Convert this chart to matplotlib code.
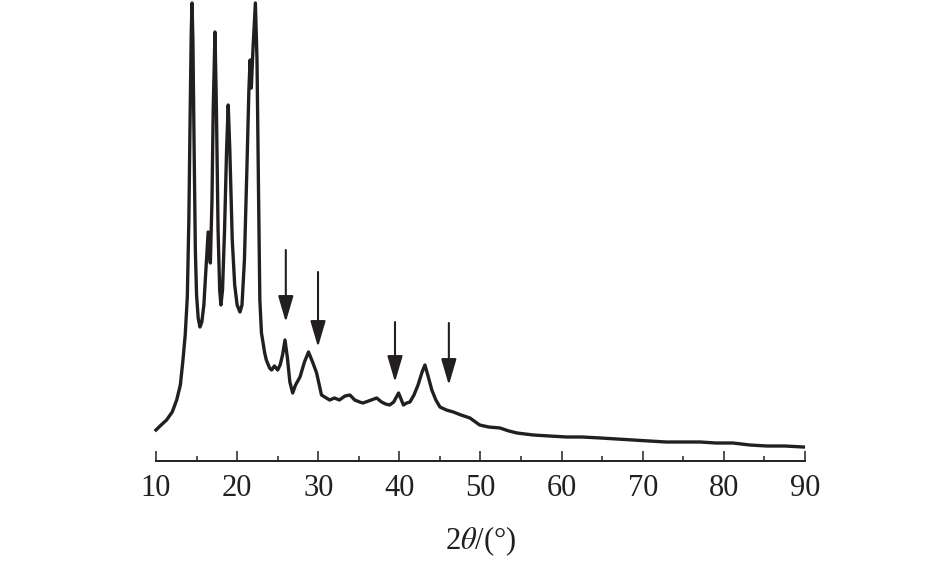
import matplotlib
matplotlib.use("Agg")
import matplotlib.pyplot as plt
from matplotlib.ticker import MultipleLocator

# XRD pattern (2theta in degrees, intensity in arbitrary units)
two_theta = [10.0, 10.5, 11.3, 12.0, 12.55, 13.0, 13.3, 13.6, 13.86, 14.05,
             14.2, 14.35, 14.44, 14.55, 14.7, 14.85, 15.0, 15.2, 15.42, 15.65,
             15.9, 16.15, 16.43, 16.7, 16.9, 17.05, 17.27, 17.45, 17.65, 17.85,
             18.0, 18.2, 18.45, 18.7, 18.9, 19.1, 19.4, 19.7, 20.0, 20.35,
             20.6, 20.9, 21.2, 21.45, 21.6, 21.75, 21.95, 22.25, 22.45, 22.65,
             22.8, 23.0, 23.4, 23.6, 24.0, 24.25, 24.6, 25.0, 25.3, 25.6,
             25.9, 26.2, 26.5, 26.85, 27.2, 27.75, 28.3, 28.8, 29.3, 29.8,
             30.4, 31.0, 31.4, 32.0, 32.6, 33.3, 33.9, 34.5, 35.1, 35.5,
             36.2, 37.2, 37.8, 38.3, 38.8, 39.3, 39.9, 40.5, 40.9, 41.3,
             41.8, 42.3, 42.8, 43.15, 43.5, 44.0, 44.5, 45.0, 45.8, 46.65,
             47.6, 48.7, 49.9, 51.0, 52.4, 53.5, 54.5, 56.5, 58.5, 60.6,
             62.5, 64.8, 66.8, 68.8, 70.8, 72.9, 75.0, 77.1, 79.0, 81.1,
             83.2, 85.3, 87.5, 89.8]
intensity = [31, 35, 41, 49, 61, 76, 99, 126, 164, 241,
             341, 431, 458, 421, 311, 211, 166, 143, 134, 139,
             156, 191, 229, 198, 261, 351, 429, 351, 231, 171,
             156, 171, 231, 311, 356, 311, 221, 176, 156, 149,
             156, 201, 291, 371, 401, 373, 411, 458, 401, 261,
             161, 128, 108, 101, 93, 91, 95, 91, 96, 106,
             121, 103, 79, 68, 76, 84, 99, 109, 99, 88,
             66, 63, 61, 63, 61, 65, 66, 61, 59, 58,
             60, 63, 59, 57, 56, 59, 68, 56, 58, 59,
             66, 76, 89, 96, 86, 71, 61, 54, 51, 49,
             46, 43, 36, 34, 33, 30, 28, 26, 25, 24,
             24, 23, 22, 21, 20, 19, 19, 19, 18, 18,
             16, 15, 15, 14]

# arrows marking the weak reflections
arrow_x = [26.0, 29.97, 39.46, 46.1]
arrow_top = [211, 189, 139, 138]
arrow_tip = [139, 114, 79, 76]

plt.rcParams['font.family'] = ['Liberation Serif', 'DejaVu Serif']
plt.rcParams['mathtext.fontset'] = 'stix'

fig = plt.figure(figsize=(9.45, 5.63), dpi=100)
ax = fig.add_axes([156 / 945, 102 / 563, 649 / 945, 461 / 563])

ax.plot(two_theta, intensity, color='#231f20', lw=2.4, clip_on=False)

for x, top, tip in zip(arrow_x, arrow_top, arrow_tip):
    ax.annotate('', xy=(x, tip), xytext=(x, top),
                arrowprops=dict(arrowstyle='-|>,head_length=1.6,head_width=0.47',
                                color='#231f20', lw=1.5, shrinkA=0, shrinkB=0))

ax.set_xlim(10, 90)
ax.set_ylim(0, 461)
for side in ['left', 'right', 'top']:
    ax.spines[side].set_visible(False)
ax.spines['bottom'].set_linewidth(1.4)
ax.spines['bottom'].set_color('#231f20')

ax.xaxis.set_major_locator(MultipleLocator(10))
ax.xaxis.set_minor_locator(MultipleLocator(5))
ax.tick_params(axis='x', which='major', direction='in', length=7.5, width=1.1,
               labelsize=22, pad=9.5, colors='#231f20')
ax.tick_params(axis='x', which='minor', direction='in', length=3.8, width=1.1,
               colors='#231f20')
ax.set_yticks([])

ax.set_xlabel(r'2$\theta$/(°)', fontsize=22, color='#231f20', labelpad=15)

fig.savefig('out.png', dpi=100)
